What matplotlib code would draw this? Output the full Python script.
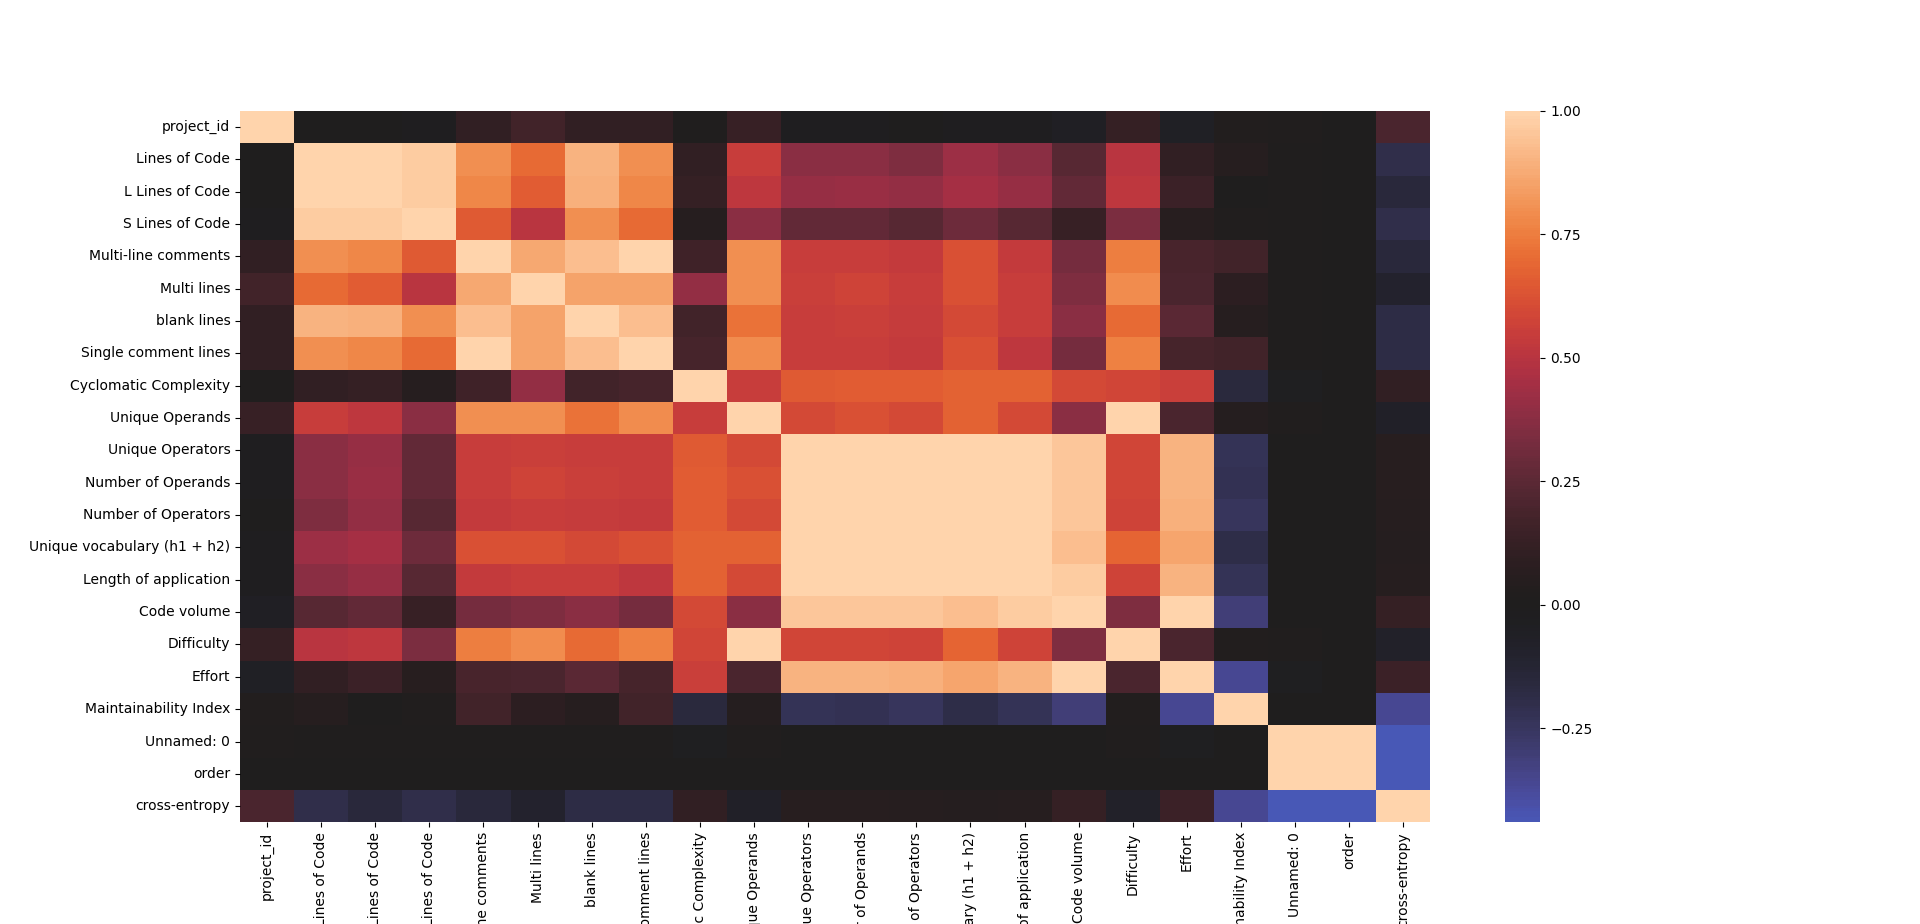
import numpy as np
import pandas as pd
import matplotlib
matplotlib.use("Agg")
import matplotlib.pyplot as plt
import matplotlib.ticker as ticker
import seaborn as sns

labels = ["project_id", "Lines of Code", "L Lines of Code", "S Lines of Code",
          "Multi-line comments", "Multi lines", "blank lines", "Single comment lines",
          "Cyclomatic Complexity", "Unique Operands", "Unique Operators",
          "Number of Operands", "Number of Operators", "Unique vocabulary (h1 + h2)",
          "Length of application", "Code volume", "Difficulty", "Effort",
          "Maintainability Index", "Unnamed: 0", "order", "cross-entropy"]

# lower triangle of the correlation matrix
lower = [
    [1],
    [0.0, 1],
    [0.0, 1.0, 1],
    [-0.02, 0.97, 0.97, 1],
    [0.11, 0.8, 0.77, 0.65, 1],
    [0.17, 0.7, 0.66, 0.5, 0.87, 1],
    [0.1, 0.9, 0.89, 0.8, 0.93, 0.85, 1],
    [0.1, 0.8, 0.77, 0.7, 1.0, 0.85, 0.93, 1],
    [0.01, 0.1, 0.12, 0.05, 0.16, 0.4, 0.17, 0.18, 1],
    [0.13, 0.55, 0.52, 0.38, 0.8, 0.8, 0.72, 0.79, 0.55, 1],
    [-0.02, 0.38, 0.41, 0.27, 0.55, 0.56, 0.55, 0.55, 0.65, 0.6, 1],
    [-0.02, 0.38, 0.42, 0.27, 0.55, 0.57, 0.56, 0.55, 0.66, 0.62, 1.0, 1],
    [0.0, 0.35, 0.4, 0.24, 0.53, 0.55, 0.54, 0.53, 0.66, 0.6, 1.0, 1.0, 1],
    [-0.02, 0.43, 0.45, 0.3, 0.62, 0.62, 0.6, 0.62, 0.67, 0.67, 1.0, 1.0, 1.0, 1],
    [-0.02, 0.38, 0.41, 0.24, 0.53, 0.55, 0.55, 0.52, 0.67, 0.6, 1.0, 1.0, 1.0, 1.0, 1],
    [-0.05, 0.24, 0.27, 0.13, 0.33, 0.35, 0.38, 0.33, 0.6, 0.38, 0.96, 0.96, 0.95, 0.93, 0.97, 1],
    [0.12, 0.5, 0.52, 0.34, 0.75, 0.79, 0.7, 0.76, 0.58, 1.0, 0.58, 0.58, 0.57, 0.68, 0.57, 0.35, 1],
    [-0.06, 0.1, 0.15, 0.06, 0.19, 0.2, 0.25, 0.18, 0.56, 0.2, 0.9, 0.9, 0.89, 0.86, 0.9, 1.0, 0.2, 1],
    [0.03, 0.05, 0.0, 0.02, 0.17, 0.08, 0.05, 0.17, -0.16, 0.04, -0.23, -0.22, -0.24, -0.19, -0.23, -0.31, 0.03, -0.36, 1],
    [0.02, 0.01, 0.01, 0.01, 0.01, 0.01, 0.01, 0.01, -0.03, 0.02, 0.0, 0.0, 0.0, 0.0, 0.0, 0.0, 0.02, -0.03, 0.0, 1],
    [0.0, 0.0, 0.0, 0.0, 0.0, 0.0, 0.0, 0.0, 0.0, 0.0, 0.0, 0.0, 0.0, 0.0, 0.0, 0.0, 0.0, 0.0, 0.0, 1.0, 1],
    [0.2, -0.2, -0.15, -0.2, -0.15, -0.1, -0.18, -0.18, 0.1, -0.07, 0.06, 0.06, 0.05, 0.04, 0.05, 0.12, -0.08, 0.15, -0.36, -0.44, -0.44, 1],
]

n = len(labels)
m = np.zeros((n, n))
for i, row in enumerate(lower):
    for j, v in enumerate(row):
        m[i, j] = v
        m[j, i] = v

corr = pd.DataFrame(m, index=labels, columns=labels)

plt.figure(figsize=(19.2, 9.24), dpi=100)
sns.heatmap(corr, center=0, cbar_kws={"ticks": ticker.MultipleLocator(0.25)})
plt.savefig("out.png", dpi=100)
